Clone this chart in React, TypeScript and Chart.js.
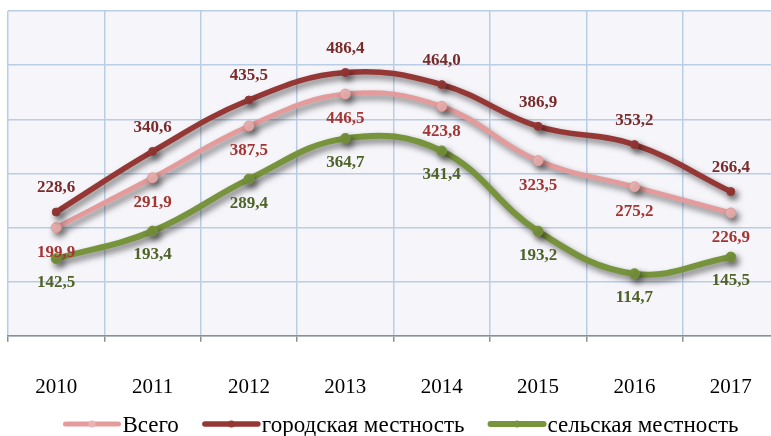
import React, { useEffect, useRef } from 'react';
import { Chart, registerables } from 'chart.js';

Chart.register(...registerables);

const years = ['2010', '2011', '2012', '2013', '2014', '2015', '2016', '2017'];
const totalValues = [199.9, 291.9, 387.5, 446.5, 423.8, 323.5, 275.2, 226.9];
const urbanValues = [228.6, 340.6, 435.5, 486.4, 464.0, 386.9, 353.2, 266.4];
const ruralValues = [142.5, 193.4, 289.4, 364.7, 341.4, 193.2, 114.7, 145.5];
const seriesNames = ['Всего', 'городская местность', 'сельская местность'];
const yMin = 0;
const yMax = 600;
const yStep = 100;

const fmt = (v: number) => v.toFixed(1).replace('.', ',');

const shadowPlugin = {
  id: 'shadowPlugin',
  beforeDatasetDraw(chart: any) {
    const ctx = chart.ctx;
    ctx.save();
    ctx.shadowColor = 'rgba(0,0,0,0.5)';
    ctx.shadowBlur = 6;
    ctx.shadowOffsetX = 3;
    ctx.shadowOffsetY = 4;
  },
  afterDatasetDraw(chart: any) {
    chart.ctx.restore();
  },
};

const bgPlugin = {
  id: 'bgPlugin',
  beforeDraw(chart: any) {
    const { ctx, chartArea } = chart;
    ctx.save();
    ctx.fillStyle = '#ffffff';
    ctx.fillRect(0, 0, chart.width, chart.height);
    ctx.fillStyle = '#F5F5FA';
    ctx.fillRect(chartArea.left, chartArea.top, chartArea.right - chartArea.left, chartArea.bottom - chartArea.top);
    ctx.restore();
  },
};

const labelPlugin = {
  id: 'labelPlugin',
  afterDatasetsDraw(chart: any) {
    const ctx = chart.ctx;
    ctx.save();
    ctx.font = 'bold 17px "Liberation Serif", "Times New Roman", serif';
    ctx.textAlign = 'center';
    ctx.textBaseline = 'middle';
    chart.data.datasets.forEach((ds: any, di: number) => {
      const meta = chart.getDatasetMeta(di);
      meta.data.forEach((pt: any, i: number) => {
        ctx.fillStyle = ds.labelColor;
        ctx.fillText(fmt(ds.data[i]), pt.x, pt.y + ds.labelOffset);
      });
    });
    ctx.restore();
  },
};

const legendPlugin = {
  id: 'customLegend',
  afterDraw(chart: any) {
    const ctx = chart.ctx;
    ctx.save();
    ctx.font = '23px "Liberation Serif", "Times New Roman", serif';
    const lineLen = 57;
    const gapText = 2;
    const gapItem = 24;
    const items = chart.data.datasets.map((ds: any) => ({
      text: ds.label,
      color: ds.borderColor,
      lw: ds.borderWidth,
      fill: ds.pointBackgroundColor,
      w: lineLen + gapText + ctx.measureText(ds.label).width,
    }));
    const total = items.reduce((s: number, it: any) => s + it.w, 0) + gapItem * (items.length - 1);
    let x = 401 - total / 2;
    const y = 424;
    items.forEach((it: any) => {
      ctx.strokeStyle = it.color;
      ctx.lineWidth = it.lw;
      ctx.lineCap = 'round';
      ctx.beginPath();
      ctx.moveTo(x + 2, y);
      ctx.lineTo(x + lineLen - 2, y);
      ctx.stroke();
      ctx.fillStyle = it.fill;
      ctx.beginPath();
      ctx.arc(x + lineLen / 2, y, 3.5, 0, Math.PI * 2);
      ctx.fill();
      ctx.fillStyle = '#000000';
      ctx.textAlign = 'left';
      ctx.textBaseline = 'alphabetic';
      ctx.fillText(it.text, x + lineLen + gapText, y + 8);
      x += it.w + gapItem;
    });
    ctx.restore();
  },
};

export default function App() {
  const ref = useRef<HTMLCanvasElement | null>(null);
  useEffect(() => {
    if (!ref.current) return;
    const chart = new Chart(ref.current, {
      type: 'line',
      data: {
        labels: years,
        datasets: [
          {
            label: seriesNames[0],
            data: totalValues,
            borderColor: '#E39C9B',
            backgroundColor: '#E39C9B',
            pointBackgroundColor: '#EDB3B2',
            pointBorderColor: '#E39C9B',
            pointRadius: 5,
            pointBorderWidth: 1,
            borderWidth: 5,
            tension: 0.4,
            order: 2,
            labelColor: '#A33533',
            labelOffset: 25,
          } as any,
          {
            label: seriesNames[1],
            data: urbanValues,
            borderColor: '#953735',
            backgroundColor: '#953735',
            pointBackgroundColor: '#953735',
            pointBorderColor: '#953735',
            pointRadius: 4,
            pointBorderWidth: 1,
            borderWidth: 5.5,
            tension: 0.4,
            order: 1,
            labelColor: '#782B2A',
            labelOffset: -24,
          } as any,
          {
            label: seriesNames[2],
            data: ruralValues,
            borderColor: '#77933C',
            backgroundColor: '#77933C',
            pointBackgroundColor: '#77933C',
            pointBorderColor: '#77933C',
            pointRadius: 5,
            pointBorderWidth: 1,
            borderWidth: 6,
            tension: 0.4,
            order: 0,
            labelColor: '#4F6228',
            labelOffset: 24,
          } as any,
        ],
      },
      options: {
        responsive: false,
        animation: false,
        layout: { padding: { left: 8, right: 8, top: 11, bottom: 3 } },
        plugins: {
          legend: { display: false },
          tooltip: { enabled: false },
        },
        scales: {
          x: {
            offset: true,
            grid: {
              offset: true,
              color: '#B9CDE5',
              lineWidth: 1.5,
              drawTicks: true,
              tickLength: 6,
              tickColor: '#8E8E8E',
              tickWidth: 1.5,
            },
            border: { color: '#8E8E8E', width: 1.5 },
            ticks: {
              color: '#000000',
              padding: 33,
              font: { family: '"Liberation Serif", "Times New Roman", serif', size: 21 },
              maxRotation: 0,
            },
          },
          y: {
            min: yMin,
            max: yMax,
            ticks: { display: false, stepSize: yStep },
            grid: { color: '#B9CDE5', lineWidth: 1.5, drawTicks: false },
            border: { display: false },
          },
        },
      },
      plugins: [bgPlugin, shadowPlugin, labelPlugin, legendPlugin],
    });
    return () => chart.destroy();
  }, []);
  return (
    <div style={{ position: 'fixed', left: 0, top: 0, width: 771, height: 436, overflow: 'hidden', background: '#fff' }}>
      <canvas ref={ref} width={787} height={436} style={{ display: 'block' }} />
    </div>
  );
}
